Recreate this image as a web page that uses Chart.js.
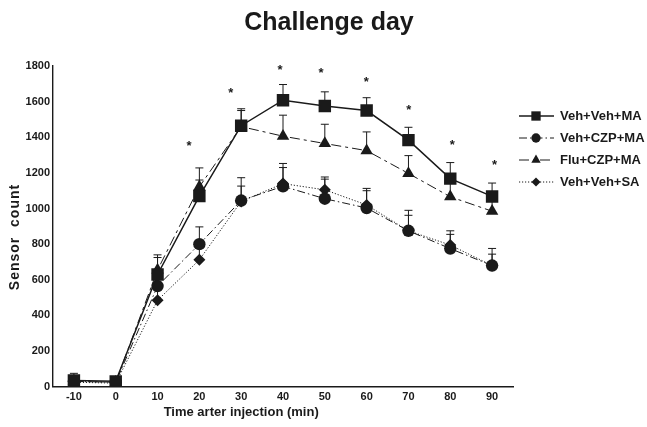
<!DOCTYPE html>
<html>
<head>
<meta charset="utf-8">
<script src="https://cdn.jsdelivr.net/npm/chart.js"></script>
<style>
  body { margin: 0; background: #fff; }
  #wrap { width: 647px; height: 427px; }
</style>
</head>
<body>
<div id="wrap"><canvas id="myChart" width="647" height="427"></canvas></div>
<script>
// time after injection (min)
const times = [-10, 0, 10, 20, 30, 40, 50, 60, 70, 80, 90];
const xTicks = [-10, 0, 10, 20, 30, 40, 50, 60, 70, 80, 90];
const yTicks = [0, 200, 400, 600, 800, 1000, 1200, 1400, 1600, 1800];

// group means and upper error (SEM)
const vehVehMA    = [35, 30, 630, 1070, 1465, 1608, 1575, 1550, 1384, 1168, 1068];
const vehVehMAErr = [40, 15, 95, 90, 95, 88, 80, 72, 72, 90, 75];
const vehCzpMA    = [30, 25, 565, 800, 1045, 1125, 1055, 1003, 875, 775, 680];
const vehCzpMAErr = [15, 10, 90, 97, 128, 128, 122, 110, 115, 100, 96];
const fluCzpMA    = [30, 25, 655, 1122, 1460, 1406, 1365, 1325, 1197, 1066, 985];
const fluCzpMAErr = [15, 10, 85, 106, 90, 118, 108, 105, 100, 90, 60];
const vehVehSA    = [25, 20, 485, 712, 1040, 1140, 1105, 1020, 875, 795, 680];
const vehVehSAErr = [10, 10, 80, 90, 86, 90, 60, 80, 87, 60, 64];

// significance marks
const starX = [17.5, 27.5, 39.3, 49.1, 59.9, 70.1, 80.5, 90.6];
const starY = [1365, 1665, 1790, 1776, 1726, 1570, 1371, 1258];

const labels = ['Veh+Veh+MA', 'Veh+CZP+MA', 'Flu+CZP+MA', 'Veh+Veh+SA'];

const ink = '#1a1a1a';
const fontFam = '"Liberation Sans", Arial, Helvetica, sans-serif';

function pts(vals) {
    return vals.map((v, i) => ({ x: times[i], y: v }));
}

function series(label, vals, err, style, radius, dash, width) {
    return {
        label: label,
        data: pts(vals),
        err: err,
        borderColor: ink,
        backgroundColor: ink,
        borderWidth: width,
        borderDash: dash,
        pointStyle: style,
        pointRadius: radius,
        pointBorderWidth: 0,
        pointBackgroundColor: ink,
        tension: 0,
        fill: false,
        showLine: true
    };
}

const datasets = [
    series(labels[0], vehVehMA, vehVehMAErr, 'rect', 8.8, [], 1.5),
    series(labels[1], vehCzpMA, vehCzpMAErr, 'circle', 6.2, [8, 3, 1.5, 3], 1),
    series(labels[2], fluCzpMA, fluCzpMAErr, 'triangle', 7.2, [10, 4, 3, 4], 1),
    series(labels[3], vehVehSA, vehVehSAErr, 'rectRot', 6, [1.2, 1.8], 1)
];

// upper error bars only
const errorBars = {
    id: 'errorBars',
    beforeDatasetsDraw(chart) {
        const ctx = chart.ctx, xs = chart.scales.x, ys = chart.scales.y;
        ctx.save();
        ctx.strokeStyle = ink;
        ctx.lineWidth = 1;
        ctx.setLineDash([]);
        chart.data.datasets.forEach(ds => {
            ds.data.forEach((p, i) => {
                const px = xs.getPixelForValue(p.x);
                const py = ys.getPixelForValue(p.y);
                const top = ys.getPixelForValue(p.y + ds.err[i]);
                ctx.beginPath();
                ctx.moveTo(px, py);
                ctx.lineTo(px, top);
                ctx.moveTo(px - 4, top);
                ctx.lineTo(px + 4, top);
                ctx.stroke();
            });
        });
        ctx.restore();
    }
};

// title, axis titles, stars and the legend
const extras = {
    id: 'extras',
    afterDraw(chart) {
        const ctx = chart.ctx, xs = chart.scales.x, ys = chart.scales.y;
        ctx.save();
        ctx.fillStyle = ink;
        ctx.textAlign = 'center';
        ctx.textBaseline = 'middle';

        ctx.font = 'bold 25px ' + fontFam;
        ctx.fillText('Challenge day', 329, 23);

        ctx.font = 'bold 13px ' + fontFam;
        ctx.fillText('Time arter injection (min)', xs.getPixelForValue(30), 412);

        ctx.save();
        ctx.translate(15, 237);
        ctx.rotate(-Math.PI / 2);
        ctx.font = 'bold 14px ' + fontFam;
        ctx.letterSpacing = '1px';
        ctx.fillText('Sensor  count', 0, 0);
        ctx.restore();

        ctx.font = 'bold 13px ' + fontFam;
        starX.forEach((v, i) => {
            ctx.fillText('*', xs.getPixelForValue(v), ys.getPixelForValue(starY[i]) + 3);
        });

        // legend
        const rows = [116, 138, 160, 182];
        chart.data.datasets.forEach((ds, i) => {
            const y = rows[i];
            ctx.save();
            ctx.strokeStyle = ink;
            ctx.lineWidth = ds.borderWidth;
            ctx.setLineDash(ds.borderDash);
            ctx.beginPath();
            ctx.moveTo(519, y);
            ctx.lineTo(554, y);
            ctx.stroke();
            ctx.setLineDash([]);
            ctx.fillStyle = ink;
            Chart.helpers.drawPoint(ctx, {
                pointStyle: ds.pointStyle,
                radius: ds.pointRadius * 0.75,
                rotation: 0,
                borderWidth: 0
            }, 536, y);
            ctx.restore();
            ctx.textAlign = 'left';
            ctx.font = 'bold 13px ' + fontFam;
            ctx.fillText(ds.label, 560, y);
        });
        ctx.restore();
    }
};

const tickFont = { family: fontFam, size: 11, weight: 'bold' };

new Chart(document.getElementById('myChart'), {
    type: 'scatter',
    data: { datasets: datasets },
    options: {
        responsive: false,
        animation: false,
        layout: { padding: { top: 66, right: 134, bottom: 18.3, left: 0 } },
        plugins: {
            legend: { display: false },
            tooltip: { enabled: false },
            title: { display: false }
        },
        scales: {
            x: {
                type: 'linear',
                min: -15,
                max: 95,
                afterBuildTicks: s => { s.ticks = xTicks.map(v => ({ value: v })); },
                afterFit: s => { s.height = 22; },
                ticks: { color: ink, font: tickFont, padding: 4, callback: v => String(v) },
                grid: { display: false, drawTicks: false },
                border: { display: true, color: ink, width: 1.4 }
            },
            y: {
                type: 'linear',
                min: 0,
                max: 1800,
                afterBuildTicks: s => { s.ticks = yTicks.map(v => ({ value: v })); },
                afterFit: s => { s.width = 53; },
                ticks: { color: ink, font: tickFont, padding: 3, callback: v => String(v) },
                grid: { display: false, drawTicks: false },
                border: { display: true, color: ink, width: 1.4 }
            }
        }
    },
    plugins: [errorBars, extras]
});
</script>
</body>
</html>
